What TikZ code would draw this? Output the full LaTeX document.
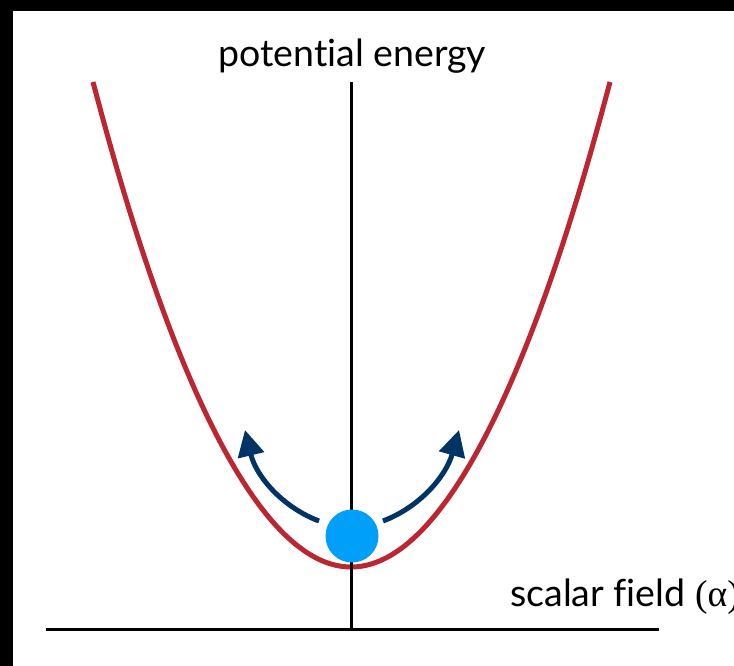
\documentclass[tikz,border=0pt]{standalone}
\usepackage{fontspec}
\setmainfont{Lato}[Ligatures=NoCommon]
\newfontfamily\alphafont{Liberation Serif}
\usetikzlibrary{arrows.meta}
\definecolor{curvered}{RGB}{188,38,48}
\definecolor{navy}{RGB}{0,51,102}
\definecolor{ballblue}{RGB}{0,160,250}
\begin{document}
\begin{tikzpicture}[x=1pt,y=-1pt,
  axis/.style={line width=3pt,black},
  curve/.style={line width=5pt,curvered},
  motion/.style={line width=5pt,navy,-{Triangle[width=26pt,length=26pt]}},
  label/.style={font=\fontsize{37.5}{40}\selectfont,inner sep=0pt,anchor=base west}]
\fill[black] (0,0) rectangle (734,666);
\fill[white] (13,11) rectangle (734,666);
\useasboundingbox (0,0) rectangle (734,666);
\begin{scope}
\clip (13,11) rectangle (734,666);
% parabola
\draw[curve] (93,82) parabola bend (351,567) (610,82);
% axes
\coordinate (ytop) at (351,82);
\coordinate (ybot) at (351,629);
\coordinate (xl) at (46,629);
\coordinate (xr) at (659,629);
\draw[axis] (ytop) -- (ybot);
\draw[axis] (xl) -- (xr);
% ball
\node[circle,fill=ballblue,minimum size=53pt,inner sep=0pt] (ball) at (352,536) {};
% arrows
\coordinate (ls) at (319,521);
\coordinate (lt) at (245,430);
\coordinate (rs) at (383,521);
\coordinate (rt) at (459,430);
\draw[motion] (ls) .. controls (282,507) and (256,476) .. (lt);
\draw[motion] (rs) .. controls (420,507) and (446,476) .. (rt);
% labels
\node[label] (pe) at (218,67) {potential energy};
\node[label] (sf) at (510,606) {scalar field {\alphafont(α)}};
\end{scope}
\end{tikzpicture}
\end{document}
